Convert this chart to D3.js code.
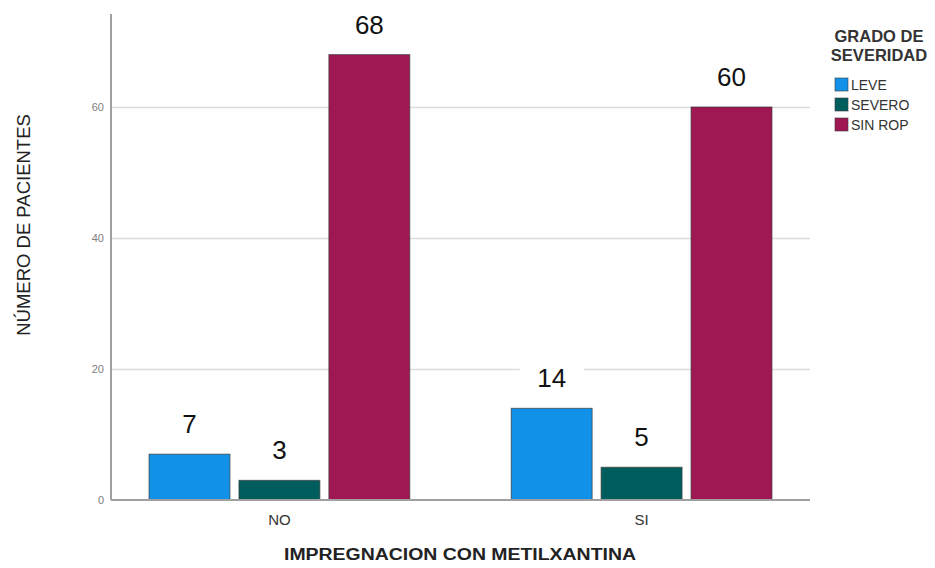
<!DOCTYPE html>
<html>
<head>
<meta charset="utf-8">
<script src="https://cdn.jsdelivr.net/npm/d3@7"></script>
<style>
  html, body { margin: 0; padding: 0; background: #fff; }
  svg { display: block; font-family: "Liberation Sans", Arial, Helvetica, sans-serif; }
</style>
</head>
<body>
<svg id="chart" width="935" height="568"></svg>
<script>
// Pacientes por impregnación con metilxantina y grado de severidad
const categories = ["NO", "SI"];
const seriesNames = ["LEVE", "SEVERO", "SIN ROP"];
const leve = [7, 14];
const severo = [3, 5];
const sinRop = [68, 60];
const yTicks = [0, 20, 40, 60];
const yMax = 74.2;
const colors = ["#1192e8", "#005d5d", "#9f1853"];

const seriesValues = [leve, severo, sinRop];
const rows = categories.map((c, i) => ({
  cat: c,
  values: seriesNames.map((s, j) => ({ key: s, value: seriesValues[j][i] }))
}));

const svg = d3.select("#chart");
const plot = { left: 111, right: 810, top: 14, bottom: 500 };

const x0 = d3.scaleBand()
  .domain(categories)
  .range([plot.left, plot.right])
  .paddingInner(0.28)
  .paddingOuter(0.105);

const x1 = d3.scaleBand()
  .domain(seriesNames)
  .range([0, x0.bandwidth()])
  .paddingInner(0.1);

const y = d3.scaleLinear().domain([0, yMax]).range([plot.bottom, plot.top]);
const color = d3.scaleOrdinal().domain(seriesNames).range(colors);

// horizontal gridlines
const grid = svg.append("g")
  .attr("transform", `translate(${plot.left},0)`)
  .call(d3.axisLeft(y).tickValues(yTicks.filter(t => t > 0))
    .tickSize(-(plot.right - plot.left)).tickFormat(""));
grid.select(".domain").remove();
grid.selectAll(".tick line").attr("stroke", "#dcdcdc").attr("stroke-width", 1.5);

// y tick labels
const yAxis = svg.append("g")
  .attr("transform", `translate(${plot.left},0)`)
  .call(d3.axisLeft(y).tickValues(yTicks).tickSize(0).tickPadding(7));
yAxis.select(".domain").remove();
yAxis.selectAll("text")
  .attr("fill", "#808080")
  .style("font-size", "11px")
  .style("font-family", "'Liberation Sans', Arial, sans-serif");

// bars
const groups = svg.append("g").selectAll("g")
  .data(rows)
  .join("g")
  .attr("transform", d => `translate(${x0(d.cat)},0)`);

groups.selectAll("rect")
  .data(d => d.values)
  .join("rect")
  .attr("x", d => x1(d.key))
  .attr("y", d => y(d.value))
  .attr("width", x1.bandwidth())
  .attr("height", d => y(0) - y(d.value))
  .attr("fill", d => color(d.key))
  .attr("stroke", "#3a3a3a")
  .attr("stroke-opacity", 0.7)
  .attr("stroke-width", 1);

// value labels on a white backing
const labels = groups.selectAll("g.lbl")
  .data(d => d.values)
  .join("g")
  .attr("class", "lbl")
  .attr("transform", d => `translate(${x1(d.key) + x1.bandwidth() / 2},${y(d.value) - 21})`);

labels.append("rect")
  .attr("x", d => -String(d.value).length * 8 - 16)
  .attr("y", -24)
  .attr("width", d => String(d.value).length * 16 + 32)
  .attr("height", 30)
  .attr("fill", "#fff");

labels.append("text")
  .attr("text-anchor", "middle")
  .attr("fill", "#111")
  .style("font-size", "26px")
  .text(d => d.value);

// axis lines
svg.append("line")
  .attr("x1", plot.left).attr("x2", plot.left)
  .attr("y1", plot.top).attr("y2", y(0))
  .attr("stroke", "#a0a0a0").attr("stroke-width", 2);
svg.append("line")
  .attr("x1", plot.left).attr("x2", plot.right)
  .attr("y1", y(0)).attr("y2", y(0))
  .attr("stroke", "#a0a0a0").attr("stroke-width", 2);

// category labels
const xAxis = svg.append("g")
  .attr("transform", `translate(0,${y(0)})`)
  .call(d3.axisBottom(x0).tickSize(0).tickPadding(14));
xAxis.select(".domain").remove();
xAxis.selectAll("text")
  .attr("fill", "#333")
  .style("font-size", "15px")
  .style("font-family", "'Liberation Sans', Arial, sans-serif");

// axis titles
svg.append("text")
  .attr("x", 460).attr("y", 560)
  .attr("text-anchor", "middle")
  .attr("fill", "#222")
  .style("font-size", "16px")
  .style("font-weight", "bold")
  .attr("textLength", 352)
  .attr("lengthAdjust", "spacingAndGlyphs")
  .text("IMPREGNACION CON METILXANTINA");

svg.append("text")
  .attr("transform", "translate(30,225) rotate(-90)")
  .attr("text-anchor", "middle")
  .attr("fill", "#222")
  .style("font-size", "18.5px")
  .text("NÚMERO DE PACIENTES");

// legend
const legend = svg.append("g");
legend.append("text")
  .attr("x", 879).attr("y", 42)
  .attr("text-anchor", "middle")
  .attr("fill", "#333")
  .style("font-size", "16.5px")
  .style("font-weight", "bold")
  .text("GRADO DE");
legend.append("text")
  .attr("x", 879).attr("y", 61)
  .attr("text-anchor", "middle")
  .attr("fill", "#333")
  .style("font-size", "16.5px")
  .style("font-weight", "bold")
  .text("SEVERIDAD");

const items = legend.selectAll("g.item")
  .data(seriesNames)
  .join("g")
  .attr("class", "item")
  .attr("transform", (d, i) => `translate(835,${78 + i * 20})`);
items.append("rect")
  .attr("width", 13).attr("height", 13)
  .attr("fill", d => color(d))
  .attr("stroke", "#3a3a3a").attr("stroke-opacity", 0.6);
items.append("text")
  .attr("x", 16).attr("y", 12)
  .attr("fill", "#333")
  .style("font-size", "14px")
  .text(d => d);
</script>
</body>
</html>
